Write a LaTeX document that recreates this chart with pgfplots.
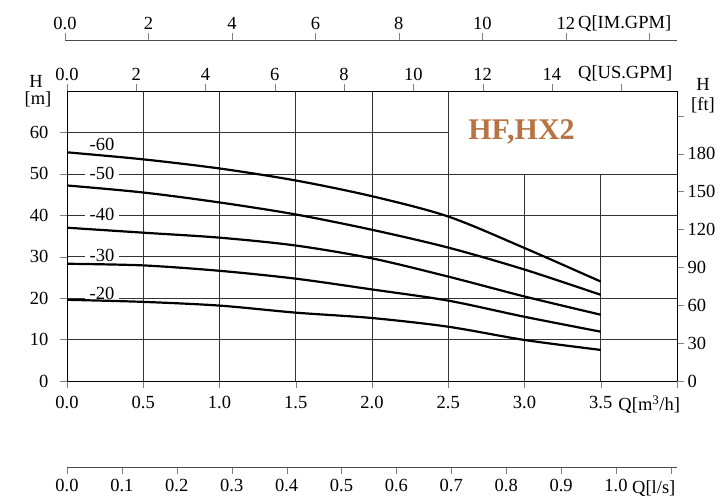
\documentclass[border=0pt]{standalone}
\usepackage{fontspec}
\setmainfont{Liberation Serif}
\usepackage{pgfplots}
\pgfplotsset{compat=1.18}
\definecolor{hfbrown}{RGB}{184,115,66}
\newcommand{\lbl}{\fontsize{18.5}{21}\selectfont}

\begin{document}
\begin{tikzpicture}[x=1pt,y=1pt]
\path[use as bounding box] (0,0) rectangle (725,497);
\pgfplotsset{
  every axis/.append style={
    scale only axis, width=610pt,
    tick align=outside, major tick length=7pt,
    ticklabel style={font=\lbl},
    axis line style={-},
  }
}

% main axis: Q [m3/h] against H [m]
\begin{axis}[
  at={(67pt,116pt)}, anchor=south west, height=290pt,
  xmin=0, xmax=4, ymin=0, ymax=70,
  xtick={0,0.5,...,4}, xticklabels={0.0,0.5,1.0,1.5,2.0,2.5,3.0,3.5,{}},
  ytick={0,10,...,60}, yticklabels={0,10,20,30,40,50,60},
  xticklabel style={yshift=-5pt},
  yticklabel style={xshift=-8pt},
  tick pos=left,
  grid=major, major grid style={black!80, line width=0.55pt},
  axis line style={black, line width=0.8pt},
  clip=false,
]
\addplot[black, line width=2.2pt, smooth] coordinates {
 (0,55.2) (0.5,53.5) (1.0,51.3) (1.5,48.4) (2.0,44.6) (2.5,39.7) (3.0,32.1) (3.5,24.0)};
\addplot[black, line width=2.2pt, smooth] coordinates {
 (0,47.2) (0.5,45.5) (1.0,43.1) (1.5,40.2) (2.0,36.5) (2.5,32.2) (3.0,26.9) (3.5,20.8)};
\addplot[black, line width=2.2pt, smooth] coordinates {
 (0,37.0) (0.5,35.8) (1.0,34.6) (1.5,32.7) (2.0,29.6) (2.5,25.2) (3.0,20.4) (3.5,16.0)};
\addplot[black, line width=2.2pt, smooth] coordinates {
 (0,28.3) (0.5,27.9) (1.0,26.6) (1.5,24.7) (2.0,22.1) (2.5,19.4) (3.0,15.5) (3.5,11.9)};
\addplot[black, line width=2.2pt, smooth] coordinates {
 (0,19.6) (0.5,19.1) (1.0,18.2) (1.5,16.5) (2.0,15.2) (2.5,13.1) (3.0,9.9) (3.5,7.5)};

\begin{scope}[every node/.style={font=\lbl, fill=white, inner xsep=5pt, inner ysep=0pt}]
\node at (axis cs:0.23,57.2) {-60};
\node at (axis cs:0.23,50.2) {-50};
\node at (axis cs:0.23,40.2) {-40};
\node at (axis cs:0.23,30.4) {-30};
\node at (axis cs:0.23,21.2) {-20};
\end{scope}

\draw[fill=white, draw=black!80, line width=0.55pt] (axis cs:2.5,50) rectangle (axis cs:4,70);
\node[font=\bfseries\fontsize{30}{32}\selectfont, text=hfbrown] at (axis cs:2.98,60.1) {HF,HX2};
\node[font=\lbl, anchor=west, inner sep=0pt] at (axis cs:3.615,-5.8) {Q[m\textsuperscript{3}/h]};
\end{axis}

% right axis: H [ft]
\begin{axis}[
  at={(67pt,116pt)}, anchor=south west, height=290pt,
  xmin=0, xmax=4, ymin=0, ymax=229.66,
  axis x line=none, axis y line*=right,
  ytick={0,30,...,210}, yticklabels={0,30,60,90,120,150,180,{}},
]
\end{axis}

% top axis: Q [US.GPM]
\begin{axis}[
  at={(67pt,116pt)}, anchor=south west, height=290pt,
  xmin=0, xmax=17.611, ymin=0, ymax=1,
  axis y line=none, axis x line*=top,
  xtick={0,2,...,16}, xticklabels={0.0,2,4,6,8,10,12,14,{}},
]
\end{axis}

% separate axis: Q [IM.GPM]
\begin{axis}[
  at={(65pt,457pt)}, anchor=north west, width=612pt, height=10pt,
  xmin=0, xmax=14.665, ymin=0, ymax=1,
  axis y line=none, axis x line*=top,
  axis line style={black!70},
  xtick={0,2,...,14}, xticklabels={0.0,2,4,6,8,10,12,{}},
]
\end{axis}

% separate axis: Q [l/s]
\begin{axis}[
  at={(67pt,30pt)}, anchor=south west, height=10pt,
  xmin=0, xmax=1.1111, ymin=0, ymax=1,
  axis y line=none, axis x line*=bottom,
  axis line style={black!70},
  xticklabel style={yshift=-2pt},
  xtick={0,0.1,0.2,0.3,0.4,0.5,0.6,0.7,0.8,0.9,1.0,1.1},
  xticklabels={0.0,0.1,0.2,0.3,0.4,0.5,0.6,0.7,0.8,0.9,1.0,{}},
]
\end{axis}

\begin{scope}[every node/.style={font=\lbl, inner sep=0pt}]
\node[anchor=west] at (578,423) {Q[US.GPM]};
\node[anchor=west] at (578,473) {Q[IM.GPM]};
\node[anchor=west] at (632,8) {Q[l/s]};
\node at (36,416) {H};
\node at (38,398) {[m]};
\node at (703,413) {H};
\node at (703,392) {[ft]};
\end{scope}
\end{tikzpicture}
\end{document}
